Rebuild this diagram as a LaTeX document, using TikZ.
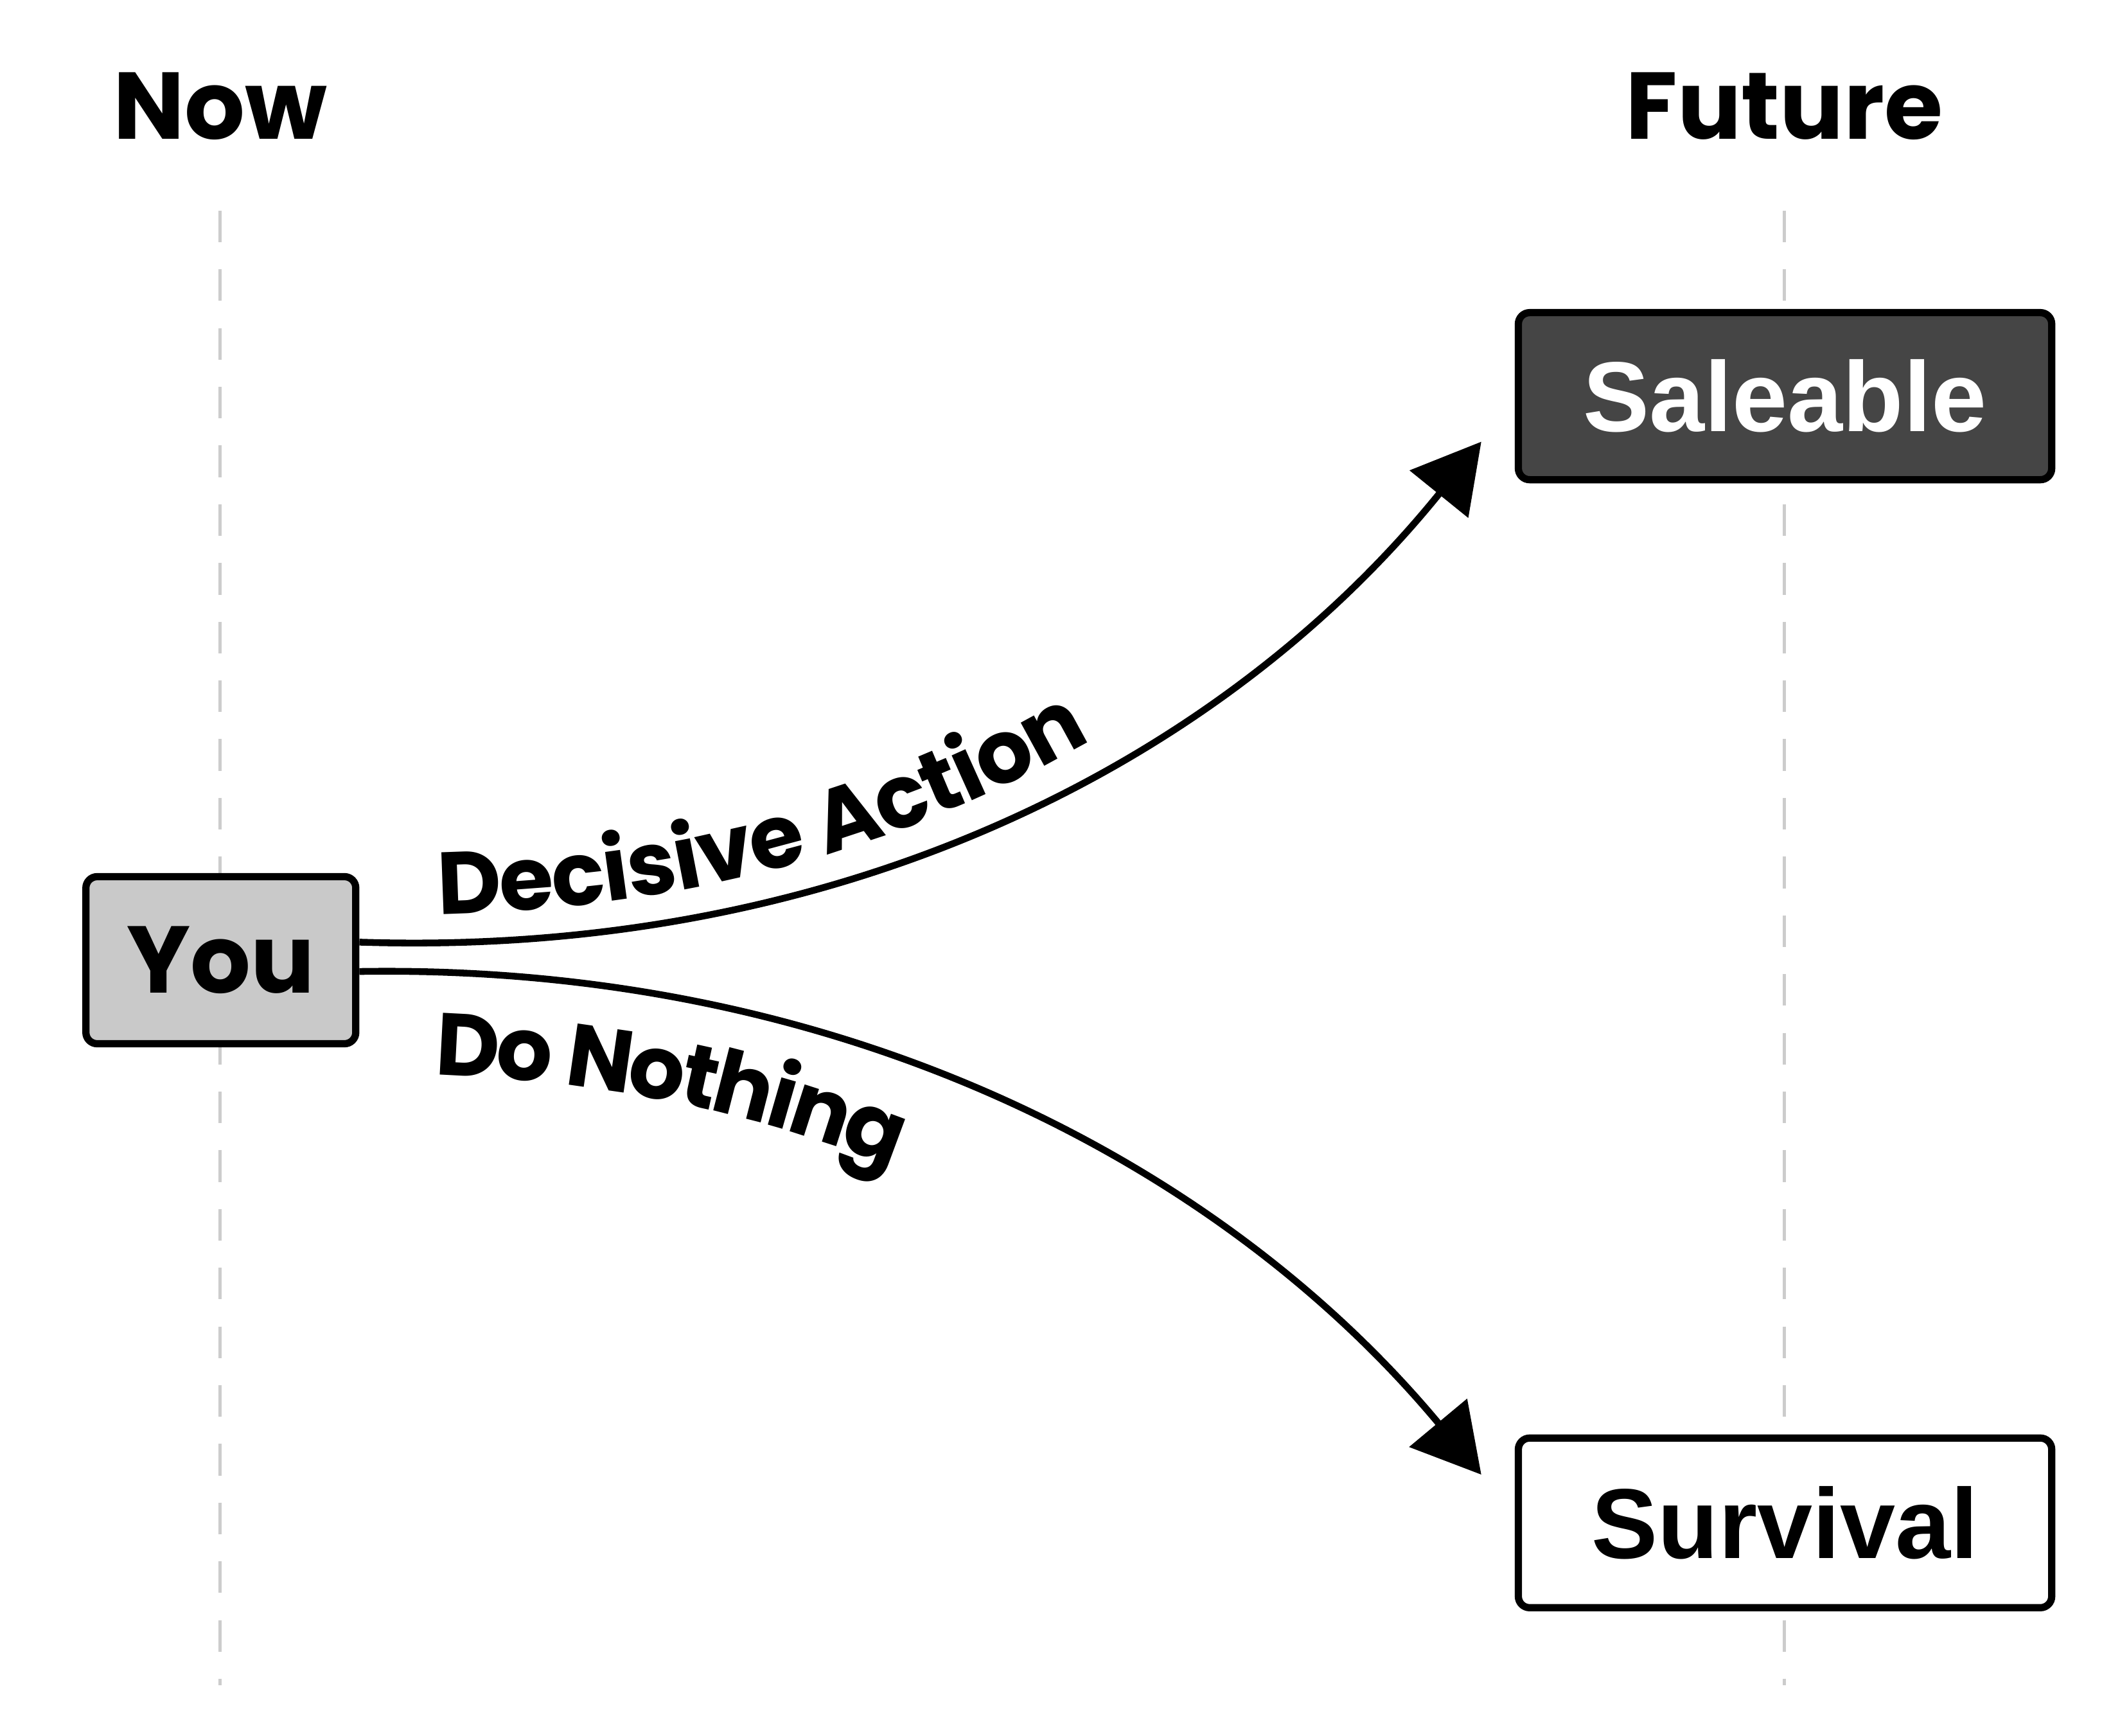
\documentclass[tikz,border=0pt]{standalone}
\usepackage{fontspec}
\setmainfont{Poppins}
\newfontfamily\boxfont{Liberation Sans}
\usetikzlibrary{arrows.meta,decorations.text}
\begin{document}
\begin{tikzpicture}[x=0.02115cm,y=0.02115cm,
  box/.style={draw=black,line width=3.2pt,rounded corners=5pt,inner sep=0pt},
  conn/.style={line width=3pt,-{Triangle[length=1.05cm,width=1.15cm]}},
  head/.style={font=\fontsize{42}{46}\selectfont\bfseries},
  guide/.style={draw=black!20,line width=1.5pt,dash pattern=on 14pt off 12pt}]
\useasboundingbox (0,0) rectangle (1560,1277);
\node[head] (now) at (162,1199) {Now};
\node[head] (fut) at (1313,1199) {Future};
\coordinate (d1) at (162,1122); \coordinate (d2) at (162,37);
\coordinate (d3) at (1313,1122); \coordinate (d4) at (1313,37);
\draw[guide] (d1) -- (d2);
\draw[guide] (d3) -- (d4);
\node[box,fill=black!21,minimum width=4.2cm,minimum height=2.6cm,font=\fontsize{42}{46}\selectfont\bfseries] (you) at (162.5,570.5) {You};
\node[box,fill=black!73,text=white,minimum width=8.3cm,minimum height=2.6cm,font=\boxfont\fontsize{44}{48}\selectfont\bfseries] (sal) at (1313.5,985.5) {Saleable};
\node[box,fill=white,minimum width=8.3cm,minimum height=2.64cm,font=\boxfont\fontsize{44}{48}\selectfont\bfseries] (sur) at (1313.5,156.5) {Survival};
\coordinate (t1) at (1090,952);
\coordinate (t2) at (1090,192);
\draw[conn] ([yshift=8pt]you.east) .. controls (620,572) and (900,717) .. (t1);
\draw[conn] ([yshift=-5pt]you.east) .. controls (620,568) and (900,420) .. (t2);
\path[decorate,decoration={text along path,raise=0.45cm,text align={left indent=1.25cm},
  text={|\fontsize{39}{42}\selectfont\bfseries|Decisive Action}}]
  ([yshift=8pt]you.east) .. controls (620,572) and (900,717) .. (t1);
\path[decorate,decoration={text along path,raise=-1.6cm,text align={left indent=1.25cm},
  text={|\fontsize{39}{42}\selectfont\bfseries|Do Nothing}}]
  ([yshift=-5pt]you.east) .. controls (620,568) and (900,420) .. (t2);
\end{tikzpicture}
\end{document}
